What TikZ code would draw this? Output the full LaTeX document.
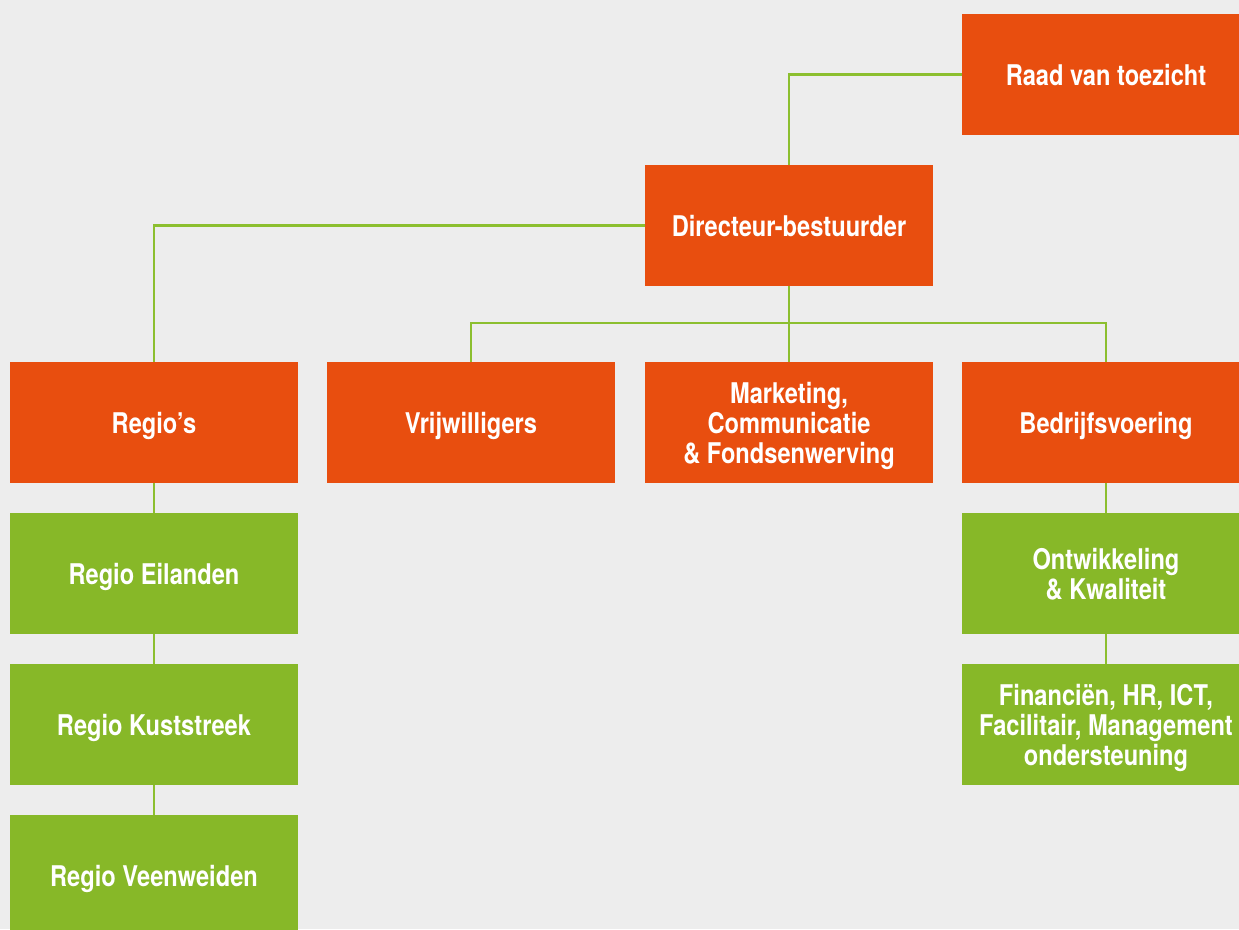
\documentclass[tikz,border=0pt]{standalone}
\usepackage{fontspec}
\newfontfamily\boxfont[FakeStretch=0.83]{TeX Gyre Heros}
\definecolor{bgc}{HTML}{EDEDED}
\definecolor{orangec}{HTML}{E84E0F}
\definecolor{greenc}{HTML}{87B828}
\definecolor{linec}{HTML}{8CBF2F}
\tikzset{
  box/.style={minimum width=288pt, minimum height=121pt, inner sep=0pt, align=center,
    text depth=0pt, text=white, font=\boxfont\bfseries\fontsize{28.5}{30}\selectfont},
  obox/.style={box, fill=orangec},
  gbox/.style={box, fill=greenc},
  conn/.style={draw=linec, line width=2.2pt}
}
\begin{document}
\begin{tikzpicture}[x=1pt,y=-1pt]
\useasboundingbox (0,0) rectangle (1239,929);
\clip (0,0) rectangle (1239,929);
\fill[bgc] (0,0) rectangle (1239,929);
\node[obox] (raad) at (1106,74.5) {Raad van toezicht};
\node[obox] (dir) at (789,225.5) {Directeur-bestuurder};
\node[obox] (regios) at (154,422.5) {Regio’s};
\node[obox] (vrij) at (471,422.5) {Vrijwilligers};
\node[obox] (mark) at (789,422.5) {Marketing,\\Communicatie\\\& Fondsenwerving};
\node[obox] (bedr) at (1106,422.5) {Bedrijfsvoering};
\node[gbox] (eil) at (154,573.5) {Regio Eilanden};
\node[gbox] (kust) at (154,724.5) {Regio Kuststreek};
\node[gbox] (veen) at (154,875.5) {Regio Veenweiden};
\node[gbox] (ontw) at (1106,573.5) {Ontwikkeling\\\& Kwaliteit};
\node[gbox] (fin) at (1106,724.5) {Financiën, HR, ICT,\\Facilitair, Management\\ondersteuning};
\coordinate (bus) at (789,323);
\draw[conn] (raad.west) -| (dir.north);
\draw[conn] (dir.west) -| (regios.north);
\draw[conn] (dir.south) -- (mark.north);
\draw[conn] (vrij.north) |- (bus) -| (bedr.north);
\draw[conn] (regios.south) -- (eil.north);
\draw[conn] (eil.south) -- (kust.north);
\draw[conn] (kust.south) -- (veen.north);
\draw[conn] (bedr.south) -- (ontw.north);
\draw[conn] (ontw.south) -- (fin.north);
\end{tikzpicture}
\end{document}
